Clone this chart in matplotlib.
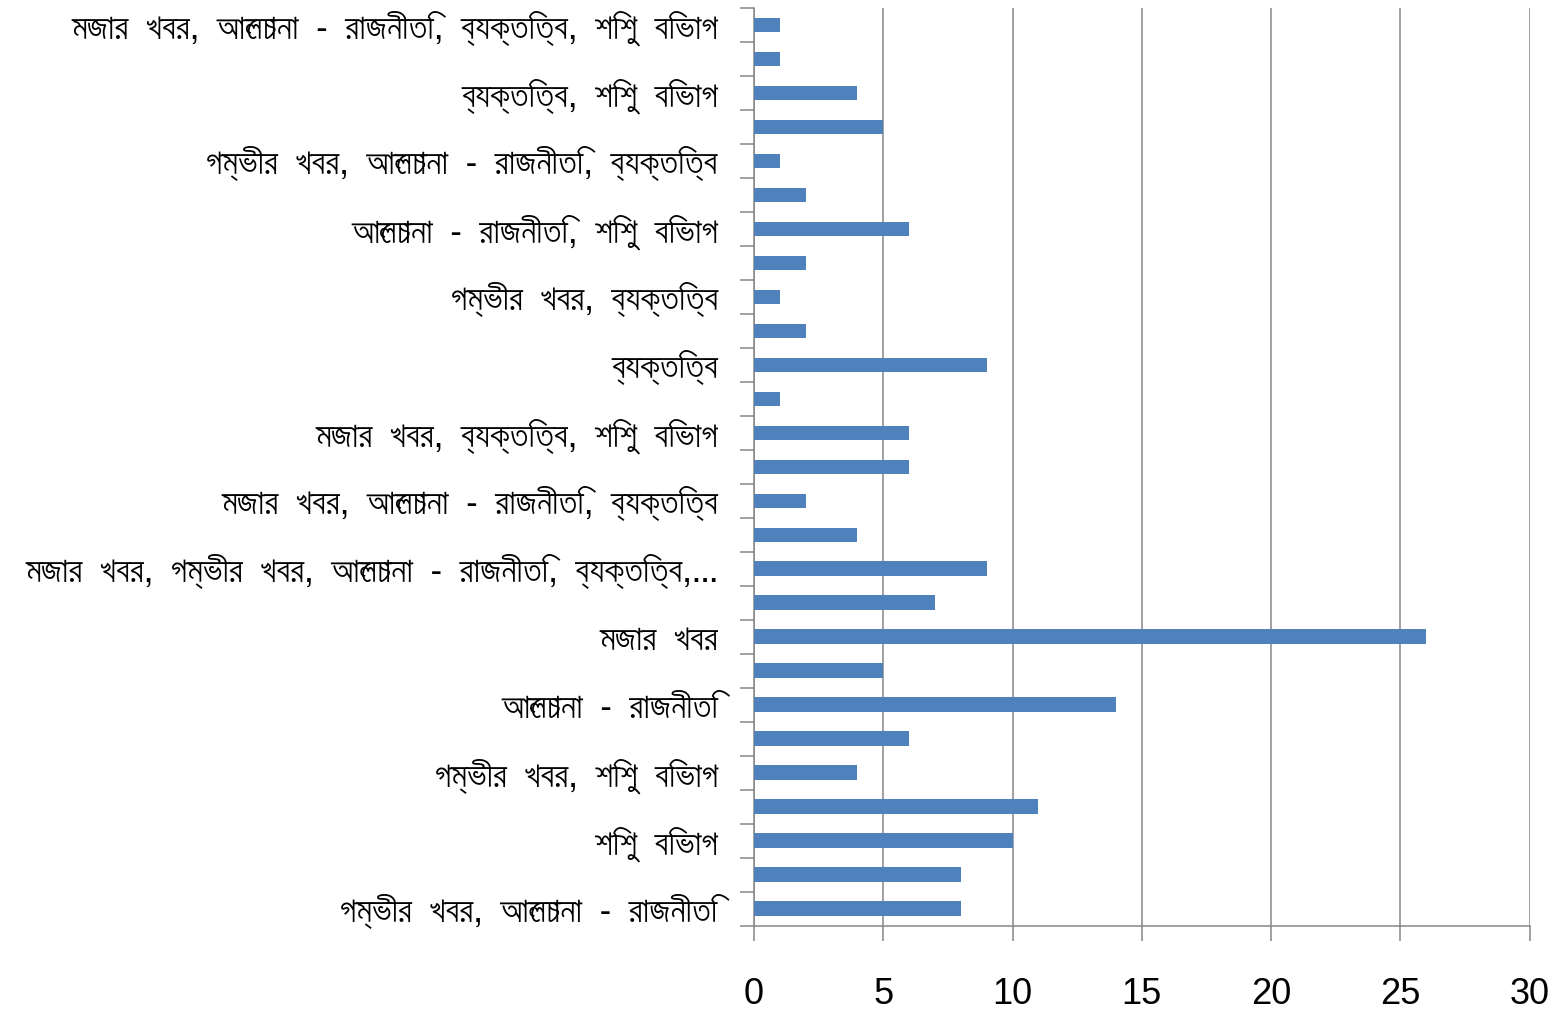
import matplotlib
matplotlib.use('Agg')
import matplotlib.pyplot as plt
from matplotlib import font_manager

# categories from bottom to top; every other label is hidden in the original chart
labels = [
    'গম্ভীর খবর, আলোচনা - রাজনীতি', '',
    'শিশু বিভাগ', '',
    'গম্ভীর খবর, শিশু বিভাগ', '',
    'আলোচনা - রাজনীতি', '',
    'মজার খবর', '',
    'মজার খবর, গম্ভীর খবর, আলোচনা - রাজনীতি, ব্যক্তিত্ব,...', '',
    'মজার খবর, আলোচনা - রাজনীতি, ব্যক্তিত্ব', '',
    'মজার খবর, ব্যক্তিত্ব, শিশু বিভাগ', '',
    'ব্যক্তিত্ব', '',
    'গম্ভীর খবর, ব্যক্তিত্ব', '',
    'আলোচনা - রাজনীতি, শিশু বিভাগ', '',
    'গম্ভীর খবর, আলোচনা - রাজনীতি, ব্যক্তিত্ব', '',
    'ব্যক্তিত্ব, শিশু বিভাগ', '',
    'মজার খবর, আলোচনা - রাজনীতি, ব্যক্তিত্ব, শিশু বিভাগ',
]
values = [8, 8, 10, 11, 4, 6, 14, 5, 26, 7, 9, 4, 2, 6, 6, 1, 9, 2, 1, 2, 6, 2, 1, 5, 4, 1, 1]
xticks = [0, 5, 10, 15, 20, 25, 30]

# try to find something that can draw Bengali
beng = []
for f in font_manager.fontManager.ttflist:
    if 'Bengali' in f.name or f.name in ('Vrinda', 'Lohit Bengali', 'FreeSans', 'FreeSerif'):
        beng.append(f.name)
families = list(dict.fromkeys(beng)) + ['DejaVu Sans']

grey = '#868686'
fig = plt.figure(figsize=(15.61, 10.11), dpi=100)
ax = fig.add_axes([0.483, 0.0841, 0.497, 0.908])

pos = list(range(len(values)))
ax.barh(pos, values, height=0.44, color='#4F81BD', zorder=3)

ax.set_xlim(0, 30)
ax.set_ylim(-0.5, len(values) - 0.5)
ax.set_xticks(xticks)
ax.set_xticklabels([str(t) for t in xticks], fontsize=26, family='Liberation Sans')
ax.tick_params(axis='x', length=11, width=1.1, color=grey, pad=26)

# the original font is set very loose, so widen the word gaps
ax.set_yticks(pos)
ax.set_yticklabels([s.replace(' ', '  ') for s in labels], fontsize=25, family=families)
ax.tick_params(axis='y', which='major', length=0, pad=26)
ax.set_yticks([p - 0.5 for p in pos] + [len(values) - 0.5], minor=True)
ax.tick_params(axis='y', which='minor', length=10, width=1.1, color=grey)

ax.grid(axis='x', color=grey, linewidth=1.1, zorder=0)
for s in ['top', 'right']:
    ax.spines[s].set_visible(False)
for s in ['left', 'bottom']:
    ax.spines[s].set_color(grey)
    ax.spines[s].set_linewidth(1.1)

fig.savefig('out.png', dpi=100)
